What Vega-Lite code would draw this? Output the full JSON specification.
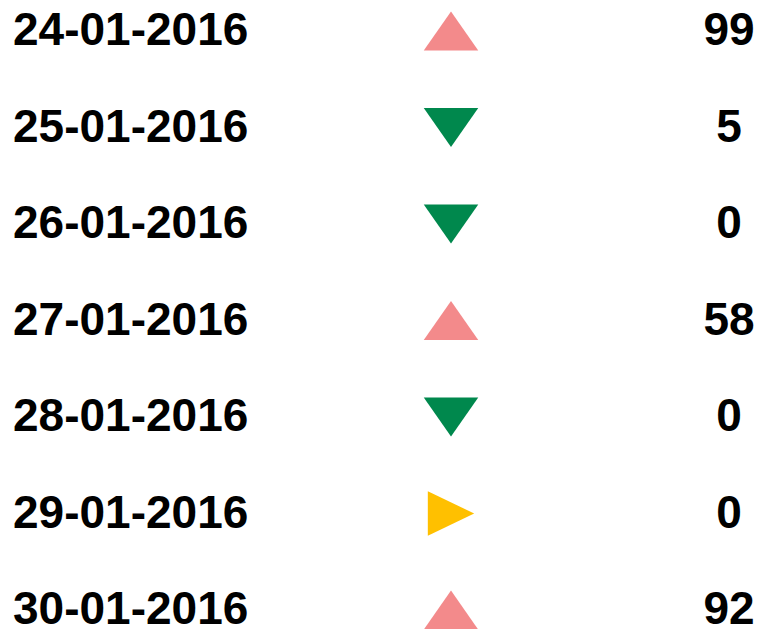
{
  "$schema": "https://vega.github.io/schema/vega-lite/v6.json",
  "width": 762,
  "height": 629,
  "autosize": {"type": "none"},
  "padding": 0,
  "background": "white",
  "config": {"view": {"stroke": null}},
  "data": {
    "values": [
      {"date": "24-01-2016", "trend": "up", "value": 99},
      {"date": "25-01-2016", "trend": "down", "value": 5},
      {"date": "26-01-2016", "trend": "down", "value": 0},
      {"date": "27-01-2016", "trend": "up", "value": 58},
      {"date": "28-01-2016", "trend": "down", "value": 0},
      {"date": "29-01-2016", "trend": "flat", "value": 0},
      {"date": "30-01-2016", "trend": "up", "value": 92}
    ]
  },
  "encoding": {
    "y": {
      "field": "date",
      "type": "ordinal",
      "sort": null,
      "scale": {"type": "point", "range": [31, 610], "padding": 0},
      "axis": null
    }
  },
  "layer": [
    {
      "mark": {"type": "text", "align": "left", "baseline": "middle", "font": "Liberation Sans", "fontWeight": "bold", "fontSize": 46, "color": "black"},
      "encoding": {
        "x": {"datum": 0, "type": "quantitative", "scale": {"domain": [0, 1, 2], "range": [13, 451, 729]}, "axis": null},
        "text": {"field": "date"}
      }
    },
    {
      "mark": {"type": "point", "filled": true, "opacity": 1, "strokeWidth": 0},
      "encoding": {
        "x": {"datum": 1, "type": "quantitative"},
        "shape": {
          "field": "trend",
          "type": "nominal",
          "scale": {"domain": ["up", "down", "flat"], "range": ["M0,-0.72L1,0.72L-1,0.72Z", "M0,0.72L1,-0.72L-1,-0.72Z", "M0.85,0L-0.85,-0.82L-0.85,0.82Z"]},
          "legend": null
        },
        "color": {
          "field": "trend",
          "type": "nominal",
          "scale": {"domain": ["up", "down", "flat"], "range": ["#F38A8B", "#00884D", "#FFC000"]},
          "legend": null
        },
        "size": {"value": 2970}
      }
    },
    {
      "mark": {"type": "text", "align": "center", "baseline": "middle", "font": "Liberation Sans", "fontWeight": "bold", "fontSize": 46, "color": "black"},
      "encoding": {
        "x": {"datum": 2, "type": "quantitative"},
        "text": {"field": "value"}
      }
    }
  ]
}
